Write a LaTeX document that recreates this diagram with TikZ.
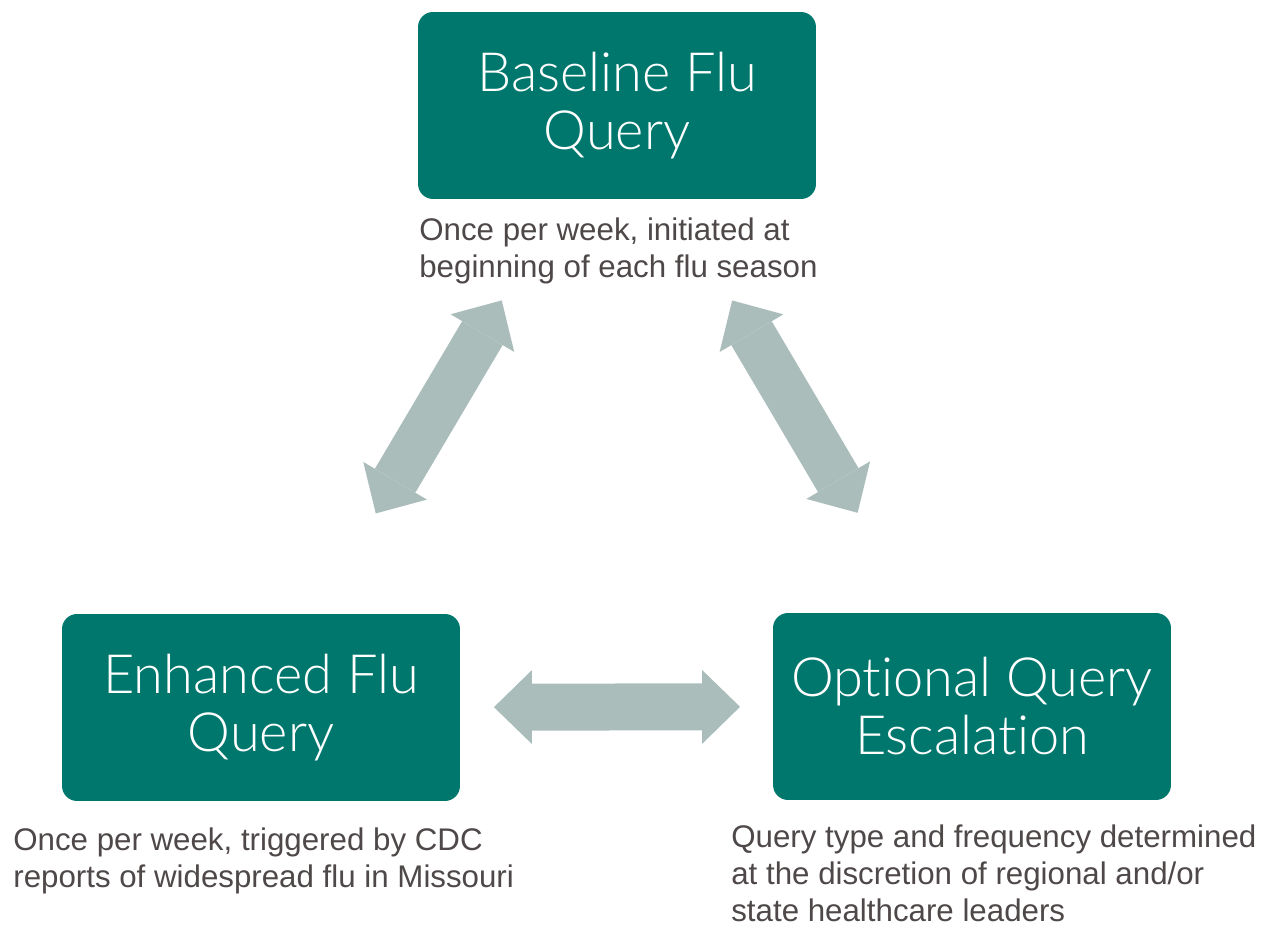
\documentclass[tikz,border=0pt]{standalone}
\usepackage{fontspec}
\setmainfont{Liberation Sans}
\newfontfamily\boxfont{Lato Light}[Ligatures=NoCommon]
\usetikzlibrary{arrows.meta}
\definecolor{boxteal}{HTML}{00776D}
\definecolor{arrowgray}{HTML}{AABDBA}
\definecolor{captiongray}{HTML}{4E4848}
\tikzset{
  querybox/.style={fill=boxteal,rounded corners=0.3cm,minimum width=7.96cm,minimum height=3.74cm,
    text=white,align=center,font=\boxfont\fontsize{30.8}{33}\selectfont},
  caption/.style={inner sep=0pt,anchor=base west,align=left,text=captiongray,
    font=\fontsize{17.8}{21.2}\selectfont},
  link/.style={arrowgray,line width=0.94cm,
    {Triangle[length=0.76cm,width=1.48cm,line width=0pt]}-{Triangle[length=0.76cm,width=1.48cm,line width=0pt]}}
}
\begin{document}
\begin{tikzpicture}[x=0.02cm,y=-0.02cm]
	\useasboundingbox (0,0) rectangle (1265,928);
	\node[querybox] (base) at (617,105.5) {Baseline Flu\\Query};
	\node[querybox] (enh) at (261,707.5) {Enhanced Flu\\Query};
	\node[querybox] (opt) at (972,706.5) {Optional Query\\Escalation};
	
	% the base anchor of the captions sits on their last line
	\node[caption] (basetxt) at (419,278) {Once per week, initiated at\\beginning of each flu season};
	\node[caption] (enhtxt) at (13,888) {Once per week, triggered by CDC\\reports of widespread flu in Missouri};
	\node[caption] (opttxt) at (731,922) {Query type and frequency determined\\at the discretion of regional and/or\\state healthcare leaders};
	
	\draw[link,shorten <=4.53cm,shorten >=4.51cm] (base.center)--(enh.center);
	\draw[link,shorten <=4.53cm,shorten >=4.50cm] (base.center)--(opt.center);
	\draw[link,shorten <=4.66cm,shorten >=4.64cm] (enh.center)--(opt.center);
\end{tikzpicture}
\end{document}
